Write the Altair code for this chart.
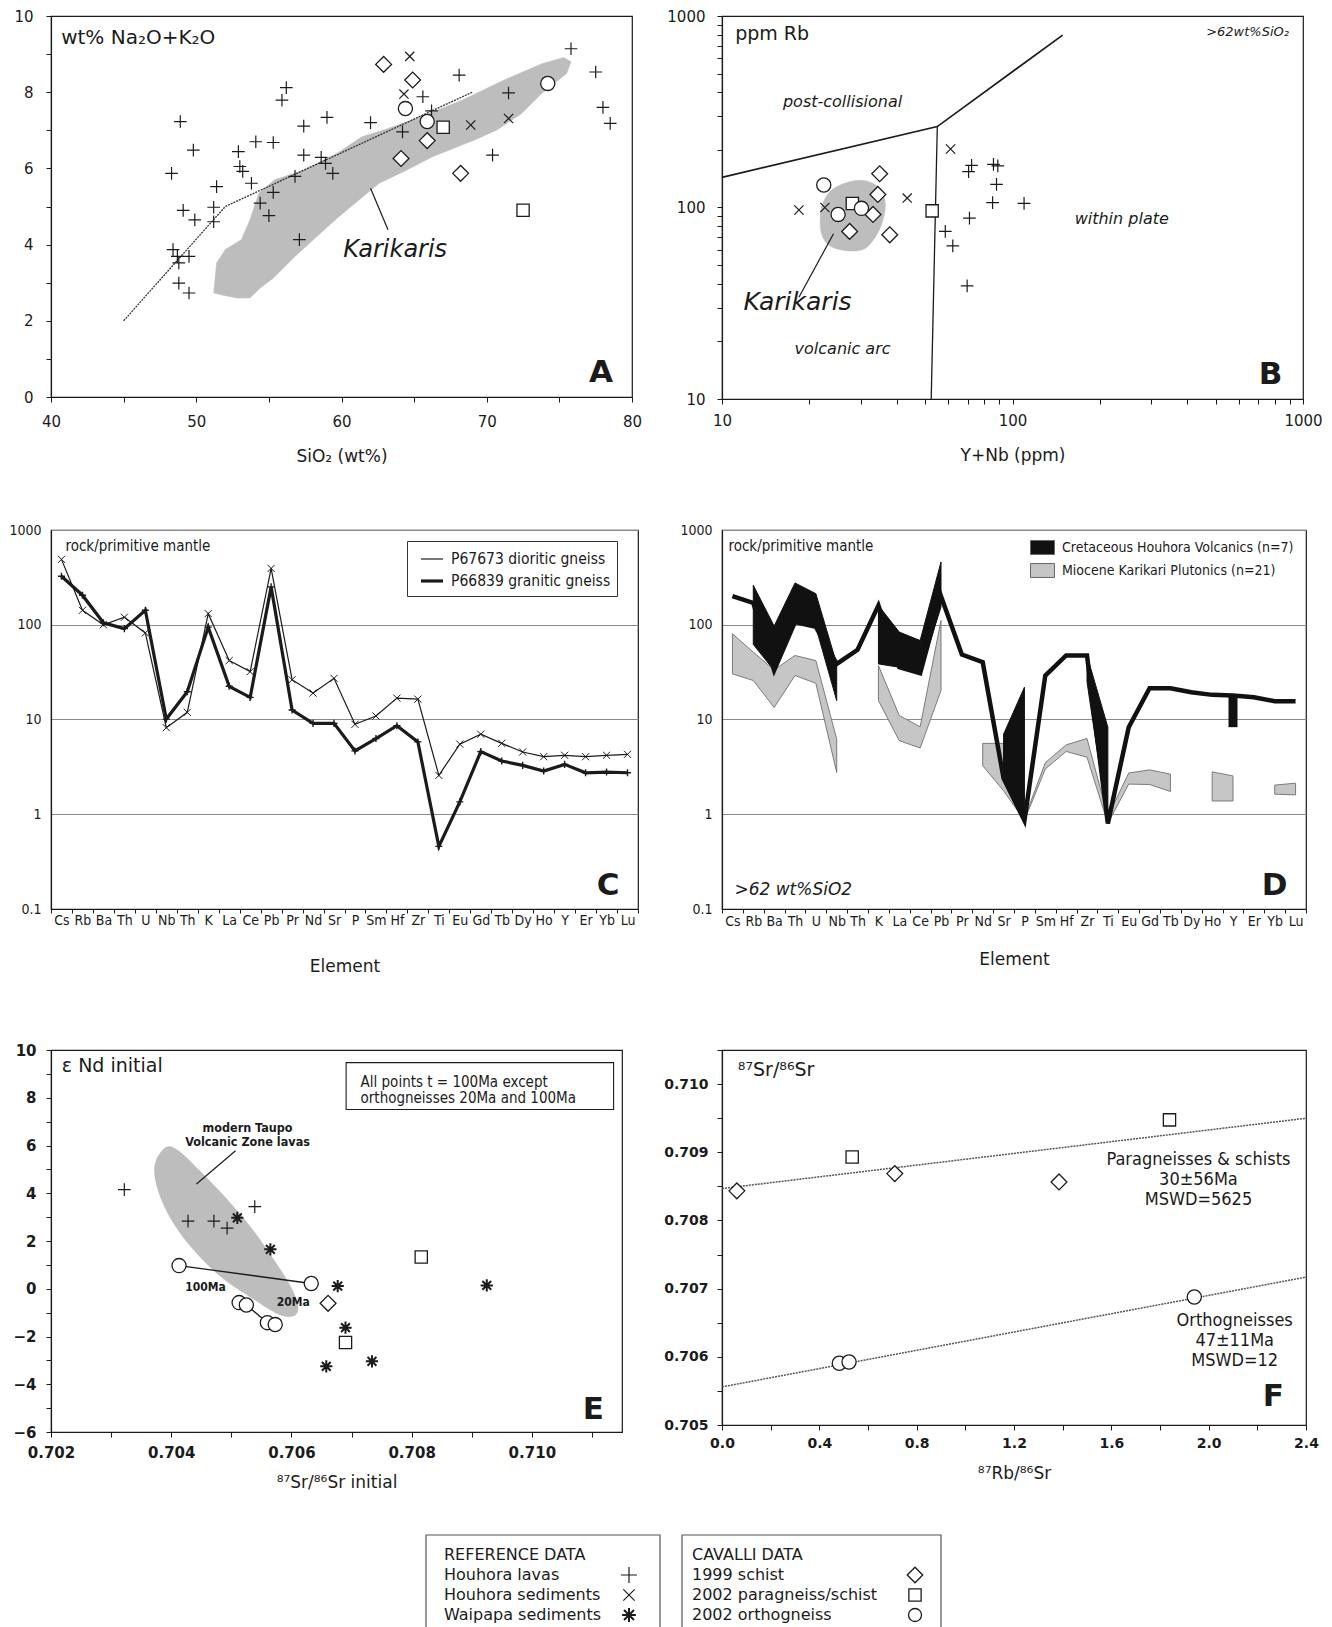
import altair as alt
import pandas as pd

INK = "#1b1b1b"
GREY = "#bdbdbd"
FONT = "DejaVu Sans"
NARROW = "DejaVu Sans Condensed, Liberation Sans Narrow, DejaVu Sans"

PLUS = "M-1,0L1,0M0,-1L0,1"
CROSS = "M-0.75,-0.75L0.75,0.75M0.75,-0.75L-0.75,0.75"
STAR = "M-1,0L1,0M0,-1L0,1M-0.72,-0.72L0.72,0.72M0.72,-0.72L-0.72,0.72"
RECT = "M-1,-0.58H1V0.58H-1Z"

# ---------------- Panel A : total alkali vs silica ----------------
A_LAVAS_X = [48.9, 48.3, 49.8, 51.4, 49.1, 49.9, 51.2, 51.2, 48.4, 48.7, 49.5, 48.8, 48.8, 49.5,
             52.9, 53.0, 53.2, 53.8, 54.1, 55.3, 54.4, 55.0, 55.3, 55.9, 56.2, 56.8, 57.4, 57.4,
             57.1, 58.6, 59.0, 58.9, 59.4, 62.0, 64.2, 65.6, 66.2, 68.1, 70.4, 71.5, 75.8, 77.5,
             78.0, 78.5]
A_LAVAS_Y = [7.23, 5.87, 6.48, 5.52, 4.90, 4.65, 4.98, 4.60, 3.87, 3.69, 3.69, 3.52, 2.99, 2.73,
             6.44, 6.05, 5.92, 5.61, 6.70, 6.68, 5.09, 4.76, 5.37, 7.79, 8.12, 5.79, 7.11, 6.35,
             4.13, 6.29, 7.34, 6.13, 5.87, 7.20, 6.96, 7.88, 7.51, 8.45, 6.35, 7.98, 9.14, 8.53,
             7.60, 7.18]
A_SED_X = [64.7, 64.3, 68.9, 71.5]
A_SED_Y = [8.94, 7.95, 7.14, 7.31]
A_SCHIST_X = [62.9, 64.9, 64.1, 65.9, 68.2]
A_SCHIST_Y = [8.73, 8.32, 6.26, 6.73, 5.87]
A_PARA_X = [67.0, 72.5]
A_PARA_Y = [7.08, 4.90]
A_ORTHO_X = [64.4, 65.9, 74.2]
A_ORTHO_Y = [7.57, 7.23, 8.23]
A_DIVIDE_X = [45, 52, 69]
A_DIVIDE_Y = [2, 5, 8]
A_KARI_X = [51.2, 51.4, 52.0, 53.1, 53.7, 54.3, 55.4, 57.4, 59.7, 61.4, 63.2, 65.5, 68.3, 71.2,
            73.8, 75.3, 75.8, 75.5, 73.8, 72.4, 70.7, 69.2, 66.3, 64.3, 62.6, 61.2, 59.7, 58.3,
            56.8, 55.3, 54.4, 53.7, 52.8, 52.0]
A_KARI_Y = [2.73, 3.52, 3.87, 4.13, 4.65, 5.35, 5.70, 5.96, 6.40, 6.83, 7.05, 7.36, 7.79, 8.32,
            8.75, 8.91, 8.80, 8.49, 7.97, 7.44, 7.01, 6.75, 6.31, 5.92, 5.61, 5.17, 4.69, 4.21,
            3.69, 3.12, 2.86, 2.60, 2.60, 2.66]

# ---------------- Panel B : Rb vs Y+Nb ----------------
B_LAVAS_X = [72.3, 70.6, 86.0, 89.0, 88.1, 85.4, 109.6, 71.1, 58.7, 62.3, 69.8]
B_LAVAS_Y = [166, 154, 168, 165, 132, 106, 105, 88, 75, 63, 39]
B_SED_X = [18.4, 22.6, 43.4, 61.2]
B_SED_Y = [97, 100, 112, 202]
B_SCHIST_X = [34.9, 34.4, 33.1, 27.5, 37.8]
B_SCHIST_Y = [150, 117, 92, 75, 72]
B_PARA_X = [28.1, 52.9]
B_PARA_Y = [105, 96]
B_ORTHO_X = [22.4, 25.1, 30.2]
B_ORTHO_Y = [131, 92, 99]
B_BLOB_X = [22.2, 23.8, 27.4, 31.4, 34.9, 36.5, 35.5, 33.1, 30.4, 26.4, 23.4, 22.0, 21.8]
B_BLOB_Y = [104.7, 123.1, 136.1, 137.7, 125.6, 104.7, 82.3, 67.2, 60.1, 59.6, 63.3, 72.9, 89.2]
B_LINE1_X = [10, 55.1, 148.8]
B_LINE1_Y = [143.6, 264.6, 795]
B_LINE2_X = [55.1, 52.5]
B_LINE2_Y = [264.6, 10]

# ---------------- Panels C & D : spidergrams ----------------
ELEMENTS = ["Cs", "Rb", "Ba", "Th", "U", "Nb", "Th_2", "K", "La", "Ce", "Pb", "Pr", "Nd", "Sr",
            "P", "Sm", "Hf", "Zr", "Ti", "Eu", "Gd", "Tb", "Dy", "Ho", "Y", "Er", "Yb", "Lu"]
C_SERIES = ["P67673 dioritic gneiss", "P66839 granitic gneiss"]
C_DIORITIC = [490, 142, 100, 120, 82, 8.2, 11.9, 131, 41.9, 32, 393, 26.3, 19, 27.2, 8.9, 10.9,
              16.8, 16.4, 2.57, 5.5, 7.0, 5.6, 4.54, 4.05, 4.19, 4.05, 4.19, 4.29]
C_GRANITIC = [325, 205, 105, 91, 142, 10.1, 19.6, 94.4, 22.4, 17.1, 251, 12.6, 9.1, 9.1, 4.66, 6.3,
              8.6, 5.8, 0.458, 1.35, 4.58, 3.65, 3.28, 2.86, 3.36, 2.74, 2.79, 2.74]

D_GROUPS = ["Cretaceous Houhora Volcanics (n=7)", "Miocene Karikari Plutonics (n=21)"]
D_BLACK_LINE = [201, 170, 33, 107, 95, 38.6, 54.4, 160, 35.6, 30.8, 200, 48.5, 40.3, 2.4, 0.86,
                29.1, 47.4, 47.4, 0.8, 8.3, 21.4, 21.4, 19.4, 18.2, 17.9, 17.2, 15.6, 15.6]
# (elements, lower, upper)
D_BLACK_SEGS = [
    (["Rb", "Ba", "Th", "U", "Nb"], [62, 32.9, 107, 94.5, 15.8], [261, 96.8, 276, 213, 38.6]),
    (["K", "La", "Ce", "Pb"], [38.6, 35.6, 30.8, 154], [160, 83.6, 68.2, 460]),
    (["Sr", "P"], [2.25, 0.85], [7.0, 21.9]),
    (["Zr", "Ti"], [25, 0.8], [47.4, 8.3]),
]
D_BLACK_BAR = ("Y", 8.3, 17.9)
D_GREY_SEGS = [
    (["Cs", "Rb", "Ba", "Th", "U", "Nb"], [30.3, 25.8, 13.4, 29.1, 24.1, 2.76],
     [80.3, 51.4, 33.4, 47.4, 41.9, 6.2]),
    (["K", "La", "Ce", "Pb"], [15.8, 5.97, 5.0, 20.2], [37.1, 11.0, 8.4, 111]),
    (["Nd", "Sr", "P", "Sm", "Hf", "Zr", "Ti", "Eu", "Gd", "Tb"],
     [3.25, 1.77, 0.86, 3.0, 4.6, 4.0, 0.8, 2.08, 2.06, 1.74],
     [5.6, 5.6, 0.9, 3.5, 5.4, 6.3, 0.95, 2.72, 2.94, 2.65]),
    (["Ho", "Y"], [1.38, 1.38], [2.8, 2.54]),
    (["Yb", "Lu"], [1.63, 1.6], [2.03, 2.13]),
]

# ---------------- Panel E : eNd vs Sr initial ----------------
E_LAVAS_X = [0.70322, 0.70428, 0.70471, 0.70493, 0.70539]
E_LAVAS_Y = [4.15, 2.83, 2.83, 2.54, 3.44]
E_WAIPAPA_X = [0.70510, 0.70565, 0.70677, 0.70690, 0.70658, 0.70734, 0.70925]
E_WAIPAPA_Y = [2.97, 1.65, 0.11, -1.63, -3.25, -3.04, 0.14]
E_SCHIST_X = [0.70661]
E_SCHIST_Y = [-0.61]
E_PARA_X = [0.70816, 0.70690]
E_PARA_Y = [1.33, -2.25]
E_ORTHO_X = [0.70413, 0.70633, 0.70513, 0.70525, 0.70560, 0.70573]
E_ORTHO_Y = [0.97, 0.22, -0.58, -0.68, -1.42, -1.50]
E_TIE_X = [[0.70413, 0.70633], [0.70525, 0.70560]]
E_TIE_Y = [[0.97, 0.22], [-0.68, -1.42]]
E_TAUPO_X = [0.703908, 0.703731, 0.703767, 0.703979, 0.704332, 0.704827, 0.705392, 0.705816,
             0.706064, 0.706099, 0.705958, 0.705675, 0.705322, 0.704898, 0.704473, 0.704120]
E_TAUPO_Y = [5.92, 5.22, 4.25, 3.00, 1.75, 0.50, -0.47, -1.10, -1.10, -0.61, 0.22, 1.33, 2.58,
             3.83, 4.94, 5.78]

# ---------------- Panel F : Rb-Sr isochrons ----------------
F_SCHIST_X = [0.061, 0.710, 1.385]
F_SCHIST_Y = [0.708434, 0.708687, 0.708565]
F_PARA_X = [0.535, 1.839]
F_PARA_Y = [0.708930, 0.709475]
F_ORTHO_X = [0.482, 0.522, 1.941]
F_ORTHO_Y = [0.705905, 0.705924, 0.706877]
F_ISO_PARA_X = [0.0, 2.4]
F_ISO_PARA_Y = [0.708468, 0.709499]
F_ISO_ORTHO_X = [0.0, 2.4]
F_ISO_ORTHO_Y = [0.705559, 0.707169]

# ---------------- key ----------------
KEY_REF = ["REFERENCE DATA", "Houhora lavas", "Houhora sediments", "Waipapa sediments"]
KEY_REF_SYM = [None, "lavas", "sed", "waipapa"]
KEY_CAV = ["CAVALLI DATA", "1999 schist", "2002 paragneiss/schist", "2002 orthogneiss"]
KEY_CAV_SYM = [None, "schist", "para", "ortho"]

# ---------------- styles ----------------
SYM = {
    "lavas": dict(shape=PLUS, size=160, sw=1.2, open=True),
    "sed": dict(shape=CROSS, size=150, sw=1.2, open=True),
    "waipapa": dict(shape=STAR, size=150, sw=2.0, open=True),
    "schist": dict(shape="diamond", size=250, sw=1.3, open=False),
    "para": dict(shape="square", size=150, sw=1.3, open=False),
    "ortho": dict(shape="circle", size=200, sw=1.3, open=False),
    "c_dio": dict(shape=CROSS, size=90, sw=1.0, open=True),
    "c_gra": dict(shape=PLUS, size=50, sw=1.4, open=True),
}
LETTER = 31


def sym(xs, ys, kind, enc, size=None):
    st = SYM[kind]
    df = pd.DataFrame({"x": xs, "y": ys})
    common = dict(shape=st["shape"], size=size or st["size"], strokeWidth=st["sw"], opacity=1)
    if st["open"]:
        m = alt.Chart(df).mark_point(filled=False, color=INK, **common)
    else:
        m = alt.Chart(df).mark_point(filled=True, fill="white", stroke=INK, **common)
    return m.encode(**enc())


def note(x, y, text, enc, size, align="left", weight="normal", style="normal", font=FONT, dx=0):
    df = pd.DataFrame({"x": [x], "y": [y], "t": [text]})
    return alt.Chart(df).mark_text(align=align, baseline="middle", fontSize=size, fontWeight=weight,
                                   fontStyle=style, font=font, color=INK, dx=dx).encode(
        text="t:N", **enc())


def path(xs, ys, enc, color=INK, width=1.2, dash=None, fill=None, interp="linear"):
    df = pd.DataFrame({"x": xs, "y": ys, "i": list(range(len(xs)))})
    kw = dict(color=color, strokeWidth=width, interpolate=interp)
    if dash:
        kw["strokeDash"] = dash
    if fill:
        kw["fill"] = fill
    return alt.Chart(df).mark_line(**kw).encode(order="i:Q", **enc())


def lin_axis(**kw):
    base = dict(labelFlush=False, labelOverlap=False, tickSize=5)
    base.update(kw)
    return alt.Axis(**base)


# ---------------- encodings ----------------
def enc_a():
    return dict(
        x=alt.X("x:Q", scale=alt.Scale(domain=[40, 80], nice=False, zero=False),
                axis=lin_axis(title="SiO₂ (wt%)", values=list(range(40, 81, 5)),
                              labelExpr="datum.value % 10 == 0 ? datum.label : ''",
                              labelPadding=12, titlePadding=19, labelFontSize=15, titleFontSize=17)),
        y=alt.Y("y:Q", scale=alt.Scale(domain=[0, 10], nice=False, zero=False),
                axis=lin_axis(title=None, values=list(range(0, 11)),
                              labelExpr="datum.value % 2 == 0 ? datum.label : ''",
                              labelPadding=13, labelFontSize=15, minExtent=41, maxExtent=41)))


LOG_TICKS = [m * 10 ** e for e in (1, 2) for m in range(1, 10)] + [1000]
LOG_LAB = "datum.value == 10 || datum.value == 100 || datum.value == 1000 ? format(datum.value, 'd') : ''"


def enc_b():
    return dict(
        x=alt.X("x:Q", scale=alt.Scale(type="log", domain=[10, 1000], nice=False),
                axis=lin_axis(title="Y+Nb (ppm)", values=LOG_TICKS, labelExpr=LOG_LAB,
                              labelPadding=9, titlePadding=19, labelFontSize=15, titleFontSize=17)),
        y=alt.Y("y:Q", scale=alt.Scale(type="log", domain=[10, 1000], nice=False),
                axis=lin_axis(title=None, values=LOG_TICKS, labelExpr=LOG_LAB,
                              labelPadding=12, labelFontSize=15)))


def make_enc_spider(label_pad, title_pad, left):
    def enc():
        yax = dict(title=None, values=[0.1, 1, 10, 100, 1000], format="~g", grid=True,
                   gridColor="#8a8a8a", gridWidth=1, tickSize=0, labelPadding=10,
                   labelFont=NARROW, labelFontSize=14)
        if left:
            yax.update(minExtent=41, maxExtent=41)
        return dict(
            x=alt.X("x:N", scale=alt.Scale(type="band", domain=ELEMENTS, paddingInner=0, paddingOuter=0),
                    axis=alt.Axis(title="Element", labelExpr="split(datum.label, '_')[0]", labelAngle=0,
                                  tickBand="extent", tickSize=4, labelPadding=label_pad,
                                  titlePadding=title_pad, labelFont=NARROW, labelFontSize=14,
                                  titleFontSize=17, labelOverlap=False, labelBound=False)),
            y=alt.Y("y:Q", scale=alt.Scale(type="log", domain=[0.1, 1000], nice=False),
                    axis=lin_axis(**yax)))
    return enc


enc_c = make_enc_spider(0, 31, True)
enc_d = make_enc_spider(1, 23, False)


def enc_e():
    return dict(
        x=alt.X("x:Q", scale=alt.Scale(domain=[0.702, 0.7115], nice=False, zero=False),
                axis=lin_axis(title="⁸⁷Sr/⁸⁶Sr initial", values=[round(0.702 + 0.001 * i, 3) for i in range(10)],
                              labelExpr="round(datum.value * 1000) % 2 == 0 ? format(datum.value, '.3f') : ''",
                              labelPadding=8, titlePadding=14, labelFontSize=15, labelFontWeight="bold",
                              titleFontSize=17)),
        y=alt.Y("y:Q", scale=alt.Scale(domain=[-6, 10], nice=False, zero=False),
                axis=lin_axis(title=None, values=list(range(-6, 11)),
                              labelExpr="datum.value % 2 == 0 ? datum.label : ''",
                              labelPadding=10, labelFontSize=15, labelFontWeight="bold",
                              minExtent=41, maxExtent=41)))


def enc_f():
    return dict(
        x=alt.X("x:Q", scale=alt.Scale(domain=[0, 2.4], nice=False, zero=False),
                axis=lin_axis(title="⁸⁷Rb/⁸⁶Sr", values=[round(0.2 * i, 1) for i in range(13)],
                              labelExpr="round(datum.value * 10) % 4 == 0 ? format(datum.value, '.1f') : ''",
                              labelPadding=6, titlePadding=15, labelFontSize=14, labelFontWeight="bold",
                              titleFontSize=17)),
        y=alt.Y("y:Q", scale=alt.Scale(domain=[0.705, 0.7105], nice=False, zero=False),
                axis=lin_axis(title=None, values=[round(0.705 + 0.0005 * i, 4) for i in range(12)],
                              labelExpr="round(datum.value * 10000) % 10 == 0 ? format(datum.value, '.3f') : ''",
                              labelPadding=9, labelFontSize=14, labelFontWeight="bold")))


# ---------------- Panel A ----------------
panel_a = alt.layer(
    path(A_KARI_X, A_KARI_Y, enc_a, color=GREY, width=0.5, fill=GREY, interp="linear-closed"),
    path(A_DIVIDE_X, A_DIVIDE_Y, enc_a, color="#333", width=1.3, dash=[2, 1]),
    path([62.0, 63.2], [5.48, 4.39], enc_a, width=1.2),
    sym(A_LAVAS_X, A_LAVAS_Y, "lavas", enc_a),
    sym(A_SED_X, A_SED_Y, "sed", enc_a),
    sym(A_SCHIST_X, A_SCHIST_Y, "schist", enc_a),
    sym(A_PARA_X, A_PARA_Y, "para", enc_a),
    sym(A_ORTHO_X, A_ORTHO_Y, "ortho", enc_a),
    note(40.7, 9.42, "wt% Na₂O+K₂O", enc_a, 20),
    note(63.7, 3.85, "Karikaris", enc_a, 24, align="center", style="italic"),
    note(78.7, 0.62, "A", enc_a, LETTER, align="right", weight="bold"),
).properties(width=581, height=381)

# ---------------- Panel B ----------------
panel_b = alt.layer(
    path(B_BLOB_X, B_BLOB_Y, enc_b, color=GREY, width=0.5, fill=GREY, interp="cardinal-closed"),
    path(B_LINE1_X, B_LINE1_Y, enc_b, width=1.7),
    path(B_LINE2_X, B_LINE2_Y, enc_b, width=1.3),
    path([24.2, 18.4], [72.9, 34.0], enc_b, width=1.2),
    sym(B_LAVAS_X, B_LAVAS_Y, "lavas", enc_b),
    sym(B_SED_X, B_SED_Y, "sed", enc_b),
    sym(B_SCHIST_X, B_SCHIST_Y, "schist", enc_b),
    sym(B_PARA_X, B_PARA_Y, "para", enc_b),
    sym(B_ORTHO_X, B_ORTHO_Y, "ortho", enc_b),
    note(11.1, 802, "ppm Rb", enc_b, 19),
    note(895, 824, ">62wt%SiO₂", enc_b, 13, align="right", style="italic"),
    note(26.0, 355, "post-collisional", enc_b, 16, align="center", style="italic"),
    note(237.7, 87.4, "within plate", enc_b, 16, align="center", style="italic"),
    note(26.0, 18.3, "volcanic arc", enc_b, 16, align="center", style="italic"),
    note(18.2, 32.2, "Karikaris", enc_b, 25, align="center", style="italic"),
    note(849, 13.4, "B", enc_b, LETTER, align="right", weight="bold"),
).properties(width=581, height=383)

# ---------------- Panel C ----------------
c_df = pd.DataFrame({
    "x": ELEMENTS * 2,
    "y": C_DIORITIC + C_GRANITIC,
    "series": [C_SERIES[0]] * len(ELEMENTS) + [C_SERIES[1]] * len(ELEMENTS),
    "i": list(range(len(ELEMENTS))) * 2,
})
c_lines = alt.Chart(c_df).mark_line(color=INK).encode(
    strokeWidth=alt.StrokeWidth(
        "series:N", scale=alt.Scale(domain=C_SERIES, range=[1.2, 3.2]),
        legend=alt.Legend(title=None, orient="none", legendX=356, legendY=11, padding=6,
                          strokeColor="#333", fillColor="white", symbolType="stroke", symbolSize=484,
                          symbolOffset=6, symbolStrokeColor=INK, labelFont=NARROW, labelFontSize=15.5,
                          labelLimit=320, rowPadding=-3, labelOffset=6, labelColor=INK)),
    order="i:Q", **enc_c())
panel_c = alt.layer(
    c_lines,
    sym(ELEMENTS, C_DIORITIC, "c_dio", enc_c),
    sym(ELEMENTS, C_GRANITIC, "c_gra", enc_c),
    note("Cs", 680, "rock/primitive mantle", enc_c, 15, dx=4, font=NARROW),
    note("Lu", 0.173, "C", enc_c, LETTER, align="right", weight="bold", dx=-8),
).properties(width=587, height=379)


# ---------------- Panel D ----------------
def band_poly_df(segs, grp, tag):
    rows = []
    for k, (els, lo, hi) in enumerate(segs):
        seq = list(zip(els, hi)) + list(zip(els[::-1], lo[::-1]))
        for j, (e, v) in enumerate(seq):
            rows.append({"x": e, "y": v, "seg": f"{tag}{k}", "grp": grp, "i": j})
    return pd.DataFrame(rows)


D_FILL = alt.Fill("grp:N", scale=alt.Scale(domain=D_GROUPS, range=["#111111", "#c6c6c6"]),
                  legend=alt.Legend(title=None, orient="none", legendX=308, legendY=5, padding=0,
                                    symbolType=RECT, symbolSize=576, symbolStrokeColor="#666",
                                    symbolStrokeWidth=1, symbolOpacity=1, labelFont=NARROW,
                                    labelFontSize=14, labelLimit=320, rowPadding=1,
                                    labelOffset=7, labelColor=INK))


def d_poly(segs, grp, tag, stroke, sw):
    return alt.Chart(band_poly_df(segs, grp, tag)).mark_line(
        stroke=stroke, strokeWidth=sw, interpolate="linear-closed", opacity=1).encode(
        fill=D_FILL, detail="seg:N", order="i:Q", **enc_d())


d_bar = alt.Chart(pd.DataFrame({"x": [D_BLACK_BAR[0]], "y": [D_BLACK_BAR[2]], "y2": [D_BLACK_BAR[1]]})
                  ).mark_rule(color="#111111", strokeWidth=9).encode(y2=alt.Y2("y2:Q"), **enc_d())

panel_d = alt.layer(
    d_poly(D_GREY_SEGS, D_GROUPS[1], "g", "#6f6f6f", 0.9),
    d_poly(D_BLACK_SEGS, D_GROUPS[0], "b", "#111111", 1.0),
    path(ELEMENTS, D_BLACK_LINE, enc_d, color="#111111", width=4.5),
    d_bar,
    note("Cs", 675, "rock/primitive mantle", enc_d, 15, dx=-4, font=NARROW),
    note("Cs", 0.16, ">62 wt%SiO2", enc_d, 17, dx=2, style="italic"),
    note("Lu", 0.174, "D", enc_d, LETTER, align="right", weight="bold", dx=-8),
).properties(width=584, height=379)

# ---------------- Panel E ----------------
e_box = alt.Chart(pd.DataFrame({"x": [0.70691], "x2": [0.71136], "y": [9.47], "y2": [7.51]})).mark_rect(
    fill="white", stroke=INK, strokeWidth=1.1).encode(x2=alt.X2("x2:Q"), y2=alt.Y2("y2:Q"), **enc_e())
e_layers = [
    path(E_TAUPO_X, E_TAUPO_Y, enc_e, color=GREY, width=0.5, fill=GREY, interp="cardinal-closed"),
    path([0.70507, 0.70442], [5.78, 4.39], enc_e, width=1.2),
]
for tx, ty in zip(E_TIE_X, E_TIE_Y):
    e_layers.append(path(tx, ty, enc_e, width=1.3))
e_layers += [
    e_box,
    note(0.70715, 8.68, "All points t = 100Ma except", enc_e, 15, font=NARROW),
    note(0.70715, 7.97, "orthogneisses 20Ma and 100Ma", enc_e, 15, font=NARROW),
    sym(E_LAVAS_X, E_LAVAS_Y, "lavas", enc_e),
    sym(E_WAIPAPA_X, E_WAIPAPA_Y, "waipapa", enc_e),
    sym(E_SCHIST_X, E_SCHIST_Y, "schist", enc_e),
    sym(E_PARA_X, E_PARA_Y, "para", enc_e),
    sym(E_ORTHO_X, E_ORTHO_Y, "ortho", enc_e),
    note(0.70218, 9.32, "ε Nd initial", enc_e, 19),
    note(0.70527, 6.75, "modern Taupo", enc_e, 12.5, align="center", weight="bold", font=NARROW),
    note(0.70527, 6.15, "Volcanic Zone lavas", enc_e, 12.5, align="center", weight="bold", font=NARROW),
    note(0.70457, 0.08, "100Ma", enc_e, 12, align="center", weight="bold", font=NARROW),
    note(0.70603, -0.54, "20Ma", enc_e, 12, align="center", weight="bold", font=NARROW),
    note(0.71120, -5.06, "E", enc_e, LETTER, align="right", weight="bold"),
]
panel_e = alt.layer(*e_layers).properties(width=571, height=382)

# ---------------- Panel F ----------------
F_NOTE = dict(align="center", font=NARROW)
panel_f = alt.layer(
    path(F_ISO_PARA_X, F_ISO_PARA_Y, enc_f, color="#555", width=1.5, dash=[2, 1]),
    path(F_ISO_ORTHO_X, F_ISO_ORTHO_Y, enc_f, color="#555", width=1.5, dash=[2, 1]),
    sym(F_SCHIST_X, F_SCHIST_Y, "schist", enc_f),
    sym(F_PARA_X, F_PARA_Y, "para", enc_f),
    sym(F_ORTHO_X, F_ORTHO_Y, "ortho", enc_f),
    note(0.065, 0.710209, "⁸⁷Sr/⁸⁶Sr", enc_f, 19),
    note(1.958, 0.708891, "Paragneisses & schists", enc_f, 18, **F_NOTE),
    note(1.958, 0.708599, "30±56Ma", enc_f, 18, **F_NOTE),
    note(1.958, 0.708307, "MSWD=5625", enc_f, 18, **F_NOTE),
    note(2.107, 0.706522, "Orthogneisses", enc_f, 18, **F_NOTE),
    note(2.107, 0.706231, "47±11Ma", enc_f, 18, **F_NOTE),
    note(2.107, 0.705939, "MSWD=12", enc_f, 18, **F_NOTE),
    note(2.309, 0.705404, "F", enc_f, LETTER, align="right", weight="bold"),
).properties(width=584, height=375)

# ---------------- key (bottom) ----------------
KEY_W, KEY_H = 587, 100
KEY_BOX_X1 = [375, 631]
KEY_BOX_X2 = [609, 890]
KEY_TEXT_X = [393, 641]
KEY_SYM_X = [578, 864]
KEY_ROW_Y = [20, 40, 60, 80]
KEY_SYM_SIZE = {"lavas": 260, "sed": 230, "waipapa": 190, "schist": 240, "para": 150, "ortho": 170}


def enc_key():
    return dict(
        x=alt.X("x:Q", scale=alt.Scale(domain=[0, KEY_W], nice=False, zero=False), axis=None),
        y=alt.Y("y:Q", scale=alt.Scale(domain=[0, KEY_H], nice=False, zero=False, reverse=True), axis=None))


key_boxes = alt.Chart(pd.DataFrame({"x": KEY_BOX_X1, "x2": KEY_BOX_X2, "y": [0, 0], "y2": [KEY_H, KEY_H]})
                      ).mark_rect(fill="white", stroke="#555", strokeWidth=1.2).encode(
    x2=alt.X2("x2:Q"), y2=alt.Y2("y2:Q"), **enc_key())
key_layers = [key_boxes]
for col, (labels, kinds) in enumerate([(KEY_REF, KEY_REF_SYM), (KEY_CAV, KEY_CAV_SYM)]):
    for row, (lab, kind) in enumerate(zip(labels, kinds)):
        key_layers.append(note(KEY_TEXT_X[col], KEY_ROW_Y[row], lab, enc_key, 16))
        if kind:
            key_layers.append(sym([KEY_SYM_X[col]], [KEY_ROW_Y[row]], kind, enc_key, size=KEY_SYM_SIZE[kind]))
key_panel = alt.layer(*key_layers).properties(width=KEY_W, height=KEY_H,
                                               view=alt.ViewBackground(stroke="transparent"))


def spacer(h):
    return alt.Chart(pd.DataFrame({"v": [0]})).mark_point(opacity=0).encode(
        x=alt.value(0), y=alt.value(0)).properties(width=1, height=h,
                                                   view=alt.ViewBackground(stroke="transparent"))


cells = [panel_a, panel_b, spacer(110.5), spacer(110.5),
         panel_c, panel_d, spacer(121), spacer(121),
         panel_e, panel_f, spacer(83), spacer(83),
         key_panel]

chart = alt.concat(*cells, columns=2, spacing={"row": 10, "column": 84}, bounds="flush").resolve_scale(
    fill="independent", strokeWidth="independent"
).resolve_legend(
    fill="independent", strokeWidth="independent"
).properties(
    padding=0
).configure_view(stroke=INK, strokeWidth=1.2).configure_axis(
    domainColor=INK, tickColor=INK, labelColor=INK, titleColor=INK, labelFont=FONT, titleFont=FONT,
    titleFontWeight="normal", domainWidth=1.2, tickWidth=1, grid=False
).configure_text(font=FONT)

chart.save("out.html", embed_options={"renderer": "svg", "actions": False})
